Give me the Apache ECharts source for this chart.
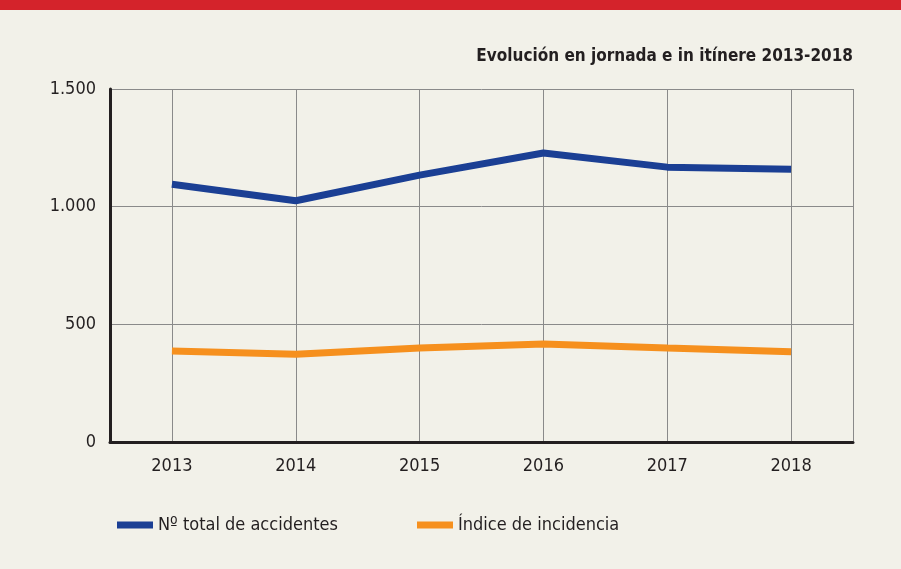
<!DOCTYPE html>
<html lang="es">
<head>
  <meta http-equiv="Content-Type" content="text/html; charset=UTF-8">
  <title>Evolución en jornada e in itínere 2013-2018</title>
  <style>
    html, body {
      margin: 0;
      padding: 0;
      background: #f2f1e9;
    }
    #myChart {
      width: 901px;
      height: 569px;
    }
  </style>
</head>
<body>
  <div id="myChart"></div>
  <script src="https://cdn.jsdelivr.net/npm/echarts@6/dist/echarts.min.js"></script>
  <script>
    // datos
    const years = [2013, 2014, 2015, 2016, 2017, 2018];
    const totalAccidentes = [1095, 1025, 1134, 1228, 1168, 1159];
    const indiceIncidencia = [387, 373, 399, 416, 399, 383];
    const yTicks = [0, 500, 1000, 1500];

    const font = "'DejaVu Sans Condensed', 'Liberation Sans Narrow', sans-serif";
    const textColor = '#231f20';

    function pairs(values) {
      return years.map((y, i) => [y, values[i]]);
    }

    const option = {
      backgroundColor: '#f2f1e9',
      animation: false,
      textStyle: { fontFamily: font },
      graphic: [{
        type: 'rect',
        left: 0,
        top: 0,
        shape: { width: 901, height: 10 },
        style: { fill: '#d4232b' }
      }],
      title: {
        text: 'Evolución en jornada e in itínere 2013-2018',
        right: 43,
        top: 43,
        textStyle: {
          fontFamily: font,
          fontWeight: 'bold',
          fontSize: 17,
          color: textColor
        }
      },
      legend: [{
        data: ['Nº total de accidentes'],
        left: 112,
        top: 511,
        icon: 'rect',
        itemWidth: 36,
        itemHeight: 7,
        itemGap: 9,
        textStyle: { fontFamily: font, fontSize: 18, color: textColor }
      }, {
        data: ['Índice de incidencia'],
        left: 412,
        top: 511,
        icon: 'rect',
        itemWidth: 36,
        itemHeight: 7,
        textStyle: { fontFamily: font, fontSize: 18, color: textColor }
      }],
      grid: {
        left: 110,
        right: 48,
        top: 89,
        bottom: 127,
        containLabel: false
      },
      xAxis: {
        type: 'value',
        min: years[0] - 0.5,
        max: years[years.length - 1] + 0.5,
        splitNumber: years.length,
        axisLine: { show: true, onZero: false, lineStyle: { color: '#231f20', width: 3 } },
        axisTick: { show: false },
        axisLabel: {
          margin: 15,
          fontSize: 18,
          color: textColor,
          showMinLabel: false,
          showMaxLabel: false,
          formatter: v => (years.includes(v) ? String(v) : '')
        },
        splitLine: { show: true, lineStyle: { color: '#8a8a8a', width: 1 } }
      },
      yAxis: {
        type: 'value',
        min: yTicks[0],
        max: yTicks[yTicks.length - 1],
        interval: 500,
        axisLine: { show: true, lineStyle: { color: '#231f20', width: 3 } },
        axisTick: { show: false },
        axisLabel: {
          margin: 14,
          fontSize: 18,
          color: textColor,
          formatter: v => v.toLocaleString('de-DE')
        },
        splitLine: { show: true, lineStyle: { color: '#8a8a8a', width: 1 } }
      },
      series: [{
        name: 'Nº total de accidentes',
        type: 'line',
        data: pairs(totalAccidentes),
        symbol: 'none',
        color: '#1b3f94',
        lineStyle: { width: 7, color: '#1b3f94' }
      }, {
        name: 'Índice de incidencia',
        type: 'line',
        data: pairs(indiceIncidencia),
        symbol: 'none',
        color: '#f6901e',
        lineStyle: { width: 7, color: '#f6901e' }
      }]
    };

    const myChart = echarts.init(document.getElementById('myChart'));
    myChart.setOption(option);
  </script>
</body>
</html>
